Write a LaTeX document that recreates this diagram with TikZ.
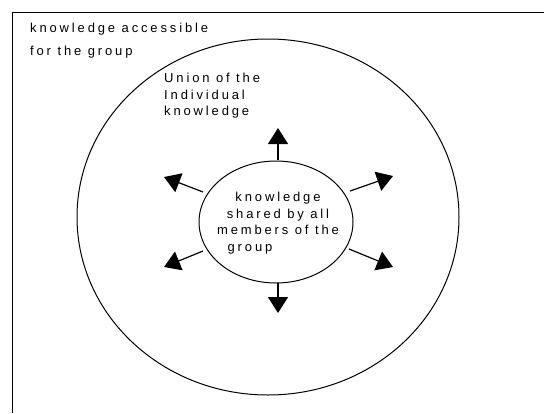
\documentclass[tikz,border=0pt]{standalone}
\usepackage{fontspec}
\setmainfont{Liberation Sans}[LetterSpace=22]
\usetikzlibrary{arrows.meta,shapes.geometric}
\begin{document}
\begin{tikzpicture}[x=1pt,y=-1pt,
  frame/.style={line width=1.4pt},
  ring/.style={draw,line width=1pt},
  txt/.style={font=\fontsize{13}{16.5}\selectfont,inner sep=0pt},
  spread/.style={line width=1.2pt,-{Triangle[length=16pt,width=20pt]}}]
\useasboundingbox (0,0) rectangle (544,413);
% group frame (open on right and bottom)
\draw[frame] (544,12.5) -- (12.5,12.5) -- (12.5,413);
\node[txt,anchor=base west] (acc1) at (30,32) {knowledge accessible};
\node[txt,anchor=base west] (acc2) at (30,55) {for the group};
% union of individual knowledge
\node[ring,ellipse,inner sep=0pt,minimum width=382pt,minimum height=356pt] (union) at (268,217) {};
\node[txt,anchor=north west,align=left] (uniontxt) at (164,73) {Union of the\\Individual\\knowledge};
% shared knowledge
\node[ring,ellipse,inner sep=0pt,minimum width=154pt,minimum height=122pt] (shared) at (276,222) {};
\node[txt,align=center] (sharedtxt) at (278,223) {knowledge\\shared by all\\members of the\\group\hspace*{56pt}};
% arrows spreading outwards
\coordinate (sN) at (278,160);
\coordinate (sS) at (278,283);
\coordinate (sNW) at (203,192);
\coordinate (sSW) at (203,251);
\coordinate (sNE) at (350,191);
\coordinate (sSE) at (349,249);
\coordinate (tN) at (278,128);
\coordinate (tS) at (278,313);
\coordinate (tNW) at (164,177);
\coordinate (tSW) at (164,267);
\coordinate (tNE) at (393,176);
\coordinate (tSE) at (393,267);
\draw[spread] (sN) -- (tN);
\draw[spread] (sS) -- (tS);
\draw[spread] (sNW) -- (tNW);
\draw[spread] (sSW) -- (tSW);
\draw[spread] (sNE) -- (tNE);
\draw[spread] (sSE) -- (tSE);
\end{tikzpicture}
\end{document}
